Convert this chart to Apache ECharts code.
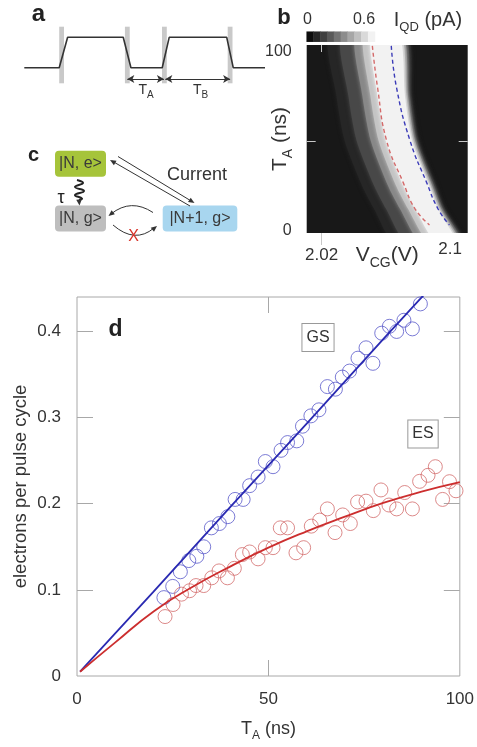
<!DOCTYPE html>
<html><head><meta charset="utf-8">
<script src="https://cdn.jsdelivr.net/npm/echarts@6/dist/echarts.min.js"></script>
<style>html,body{margin:0;padding:0;background:#fff}#c{width:477px;height:747px}</style>
</head><body><div id="c"></div>
<script>
// ---------- panel d : electrons per pulse cycle vs T_A ----------
const gsT = [22.7,25.0,27.0,29.2,31.3,33.1,35.1,37.2,39.4,41.3,43.4,45.1,47.3,49.2,51.2,53.3,55.0,57.4,58.9,61.1,63.2,65.4,67.5,69.3,71.2,73.4,75.5,77.3,79.6,81.6,83.5,85.4,87.6,89.7];
const gsV = [0.091,0.104,0.121,0.134,0.139,0.150,0.172,0.177,0.185,0.205,0.205,0.221,0.231,0.249,0.243,0.262,0.271,0.273,0.290,0.302,0.309,0.336,0.333,0.347,0.354,0.369,0.381,0.363,0.398,0.406,0.400,0.413,0.403,0.432];
const esT = [23.0,25.1,27.3,29.4,31.1,33.1,35.2,37.1,39.3,41.1,43.2,45.1,47.3,49.2,51.2,53.1,55.0,57.2,59.2,61.2,63.4,65.4,67.4,69.4,71.4,73.3,75.5,77.4,79.4,81.5,83.5,85.6,87.6,89.5,91.7,93.6,95.5,97.3,99.0];
const esV = [0.069,0.083,0.095,0.099,0.105,0.105,0.114,0.122,0.114,0.125,0.141,0.144,0.136,0.149,0.149,0.172,0.172,0.143,0.149,0.174,0.181,0.194,0.1665,0.187,0.177,0.202,0.203,0.192,0.216,0.1985,0.194,0.213,0.194,0.226,0.233,0.243,0.205,0.2256,0.215];
const gsFitT = [0.8,20,40,60,80,100];
const gsFitV = [0.005,0.098,0.196,0.293,0.391,0.488];
const esFitT = [0.8,10,20,30,40,50,60,70,80,90,100];
const esFitV = [0.005,0.039,0.075,0.103,0.127,0.149,0.168,0.185,0.201,0.214,0.225];
const dXTicks = [0,50,100];
const dYTicks = [0,0.1,0.2,0.3,0.4];

// ---------- panel b : current map (iso-current contours) ----------
const bandRowsT = [110,75,50,25,12,-8];
const bandLevels = [0.09,0.17,0.32,0.46,0.57];
const bandLeft = [
  [2.0252,2.0292,2.0343,2.0451,2.0526,2.0663],
  [2.0327,2.0367,2.0418,2.0526,2.0601,2.0739],
  [2.0414,2.0454,2.0506,2.0613,2.0688,2.0827],
  [2.0464,2.0504,2.0555,2.0663,2.0738,2.0877],
  [2.0507,2.0548,2.0599,2.0707,2.0782,2.0920]
];
const bandRight = [
  [2.0726,2.0763,2.0807,2.0913,2.0969,2.1089],
  [2.0713,2.0750,2.0794,2.0900,2.0956,2.1076],
  [2.0701,2.0738,2.0782,2.0888,2.0944,2.1064],
  [2.0691,2.0728,2.0772,2.0878,2.0934,2.1054],
  [2.0682,2.0719,2.0763,2.0869,2.0925,2.1045]
];
const dashT = [103,80,50,26.5,12,3];
const redDashV = [2.0516,2.0548,2.0605,2.0709,2.0782,2.0872];
const blueDashV = [2.0634,2.0666,2.0751,2.0855,2.0925,2.0996];
const colorbarValues = [0.03,0.09,0.15,0.21,0.27,0.33,0.39,0.45,0.51,0.57];
const bXTicks = [2.02,2.1];
const bYTicks = [0,100];

// ---------- panel a : pulse train ----------
const pulseT = [0,14.5,18.0,41.1,44.3,57.3,60.2,84.1,86.8,100];
const pulseV = [0,0,1,1,0,0,1,1,0,0];
const pulseBars = [15.5,42.8,58.2,85.5];
const tA = [42.8,58.0];
const tB = [58.6,85.5];

const FONT = "'Liberation Sans', Arial, Helvetica, sans-serif";
const zip = (a,b) => a.map((v,i)=>[v,b[i]]);

function T(x,y,text,size,extra){
  return {type:'text', x, y, z:10, style:Object.assign({text, fontSize:size, fontFamily:FONT, fill:'#333', align:'center', verticalAlign:'middle'}, extra||{})};
}
function sub(x,y,main,s,rest,size,ssize,shift){
  const r = {
    a:{fontSize:size,fontFamily:FONT,fill:'#333',color:'#333',lineHeight:size+shift*2},
    s:{fontSize:ssize,fontFamily:FONT,fill:'#333',color:'#333',lineHeight:ssize,verticalAlign:'bottom'}
  };
  return {type:'text', x, y, z:10, style:{text:'{a|'+main+'}{s|'+s+'}'+(rest?'{a|'+rest+'}':''), rich:r, align:'center', verticalAlign:'middle', fontFamily:FONT}};
}
function head(tx,ty,fx,fy,len,w){
  len=len||6; w=w||2.6;
  const dx=tx-fx, dy=ty-fy, L=Math.hypot(dx,dy), ux=dx/L, uy=dy/L;
  const bx=tx-ux*len, by=ty-uy*len;
  return {type:'polygon', z:10, shape:{points:[[tx,ty],[bx-uy*w,by+ux*w],[bx+uy*w,by-ux*w]]}, style:{fill:'#333'}};
}
function ln(x1,y1,x2,y2,w){return {type:'line', z:10, shape:{x1,y1,x2,y2}, style:{stroke:'#333', lineWidth:w||1}};}

const gray = '#a8a8a8';
const richAxis = (size,ssize) => ({
  a:{fontSize:size,fontFamily:FONT,color:'#333',lineHeight:size+8},
  s:{fontSize:ssize,fontFamily:FONT,color:'#333',lineHeight:ssize,verticalAlign:'bottom'}
});

const graphics = [
  T(38.5,14,'a',24,{fontWeight:'bold',fill:'#222'}),
  T(284,17.5,'b',22,{fontWeight:'bold',fill:'#222'}),
  T(33.5,155,'c',20,{fontWeight:'bold',fill:'#222'}),
  T(115.5,330,'d',23,{fontWeight:'bold',fill:'#222'}),
  sub(146,90,'T','A','',14,10,3),
  sub(200.5,90,'T','B','',14,10,3),
  T(307.5,20,'0',16),
  T(364,20,'0.6',16),
  sub(428,20,'I','QD',' (pA)',20,13,4),
  T(318,337.5,'GS',16,{backgroundColor:'#fff',borderColor:'#999',borderWidth:1,padding:[6,4,5,4]}),
  T(423,434,'ES',16,{backgroundColor:'#fff',borderColor:'#999',borderWidth:1,padding:[6,4,5,4]}),
  {type:'rect', shape:{x:55,y:150.7,width:51,height:26,r:4}, style:{fill:'#a6c43a'}},
  {type:'rect', shape:{x:55,y:205.5,width:51,height:26,r:4}, style:{fill:'#bebebe'}},
  {type:'rect', shape:{x:162.7,y:205.5,width:74.6,height:26,r:4}, style:{fill:'#a8d6ef'}},
  T(80.5,164,'|N, e>',16,{fill:'#3a3a3a'}),
  T(80.5,218.5,'|N, g>',16,{fill:'#3a3a3a'}),
  T(200,218.5,'|N+1, g>',16,{fill:'#3a3a3a'}),
  T(197,175,'Current',18),
  T(61,198,'τ',18,{fill:'#222'}),
  ln(190,206,112,161), head(110,160,190,206),
  ln(118,156.5,192,201.5), head(194.5,203,118,156.5),
  {type:'polyline', z:10, shape:{points:[[77,180],[83,183],[75,187],[84,191],[75,195],[82,198.5],[79,200]], smooth:0.5}, style:{stroke:'#222', lineWidth:2, fill:null}},
  head(79.5,205.5,79,199,6,2.8),
  {type:'bezierCurve', z:10, shape:{x1:153,y1:212.5,cpx1:131,cpy1:198,x2:111,y2:214}, style:{stroke:'#333', lineWidth:1, fill:null}},
  head(108.5,216,131,198),
  {type:'bezierCurve', z:10, shape:{x1:113,y1:225,cpx1:135,cpy1:244,x2:154,y2:228}, style:{stroke:'#333', lineWidth:1, fill:null}},
  head(157,226,135,244),
  T(133.5,236.5,'X',16,{fill:'#d8342b'})
];

const option = {
  animation:false,
  backgroundColor:'#fff',
  textStyle:{fontFamily:FONT},
  grid:[
    {left:77, top:297, width:387, height:380, show:true, borderColor:gray, borderWidth:1, backgroundColor:'transparent'},
    {left:306.7, top:45, width:161, height:188, show:true, borderWidth:0, backgroundColor:'#181818'},
    {left:306.7, top:31.7, width:68.3, height:10},
    {left:24.3, top:26.7, width:240.7, height:56.6}
  ],
  visualMap:[{type:'continuous', show:false, min:0, max:0.6, dimension:2, seriesIndex:[4,7], inRange:{color:['#000000','#ffffff']}}],
  xAxis:[
    {gridIndex:0, type:'value', min:0, max:100, position:'bottom',
     axisLine:{show:false,onZero:false}, splitLine:{show:false},
     axisTick:{inside:true,length:16,lineStyle:{color:gray},customValues:[50]},
     axisLabel:{customValues:dXTicks,fontSize:17,color:'#333',margin:15},
     name:'{a|T}{s|A}{a| (ns)}', nameLocation:'middle', nameGap:40, nameMoveOverlap:false,
     nameTextStyle:{rich:richAxis(18,12)}},
    {gridIndex:0, type:'value', min:0, max:100, position:'top',
     axisLine:{show:false,onZero:false}, splitLine:{show:false},
     axisTick:{inside:true,length:16,lineStyle:{color:gray},customValues:[50]},
     axisLabel:{show:false}},
    {gridIndex:1, type:'value', min:2.0107, max:2.111, position:'bottom',
     axisLine:{show:false,onZero:false}, splitLine:{show:false},
     axisTick:{inside:false,length:12,lineStyle:{color:'#c8c8c8'},customValues:[2.02]},
     axisLabel:{customValues:bXTicks,fontSize:17,color:'#333',margin:14,
       formatter:v=> v>2.05 ? '{hi|2.1}' : '2.02',
       rich:{hi:{fontSize:17,color:'#333',lineHeight:4}}},
     name:'{a|V}{s|CG}{a|(V)}', nameLocation:'middle', nameGap:8, nameMoveOverlap:false,
     nameTextStyle:{rich:richAxis(21,14)}},
    {gridIndex:1, type:'value', min:2.0107, max:2.111, position:'top',
     axisLine:{show:false,onZero:false}, splitLine:{show:false},
     axisTick:{inside:true,length:7,lineStyle:{color:'#c8c8c8'},customValues:[2.02]},
     axisLabel:{show:false}},
    {gridIndex:2, type:'category', data:colorbarValues.map((v,i)=>String(i)), show:false},
    {gridIndex:3, type:'value', min:0, max:100, show:false}
  ],
  yAxis:[
    {gridIndex:0, type:'value', min:0, max:0.44, position:'left',
     axisLine:{show:false,onZero:false}, splitLine:{show:false},
     axisTick:{inside:true,length:16,lineStyle:{color:gray},customValues:[0.1,0.2,0.3,0.4]},
     axisLabel:{customValues:dYTicks,fontSize:17,color:'#333',margin:16},
     name:'electrons per pulse cycle', nameLocation:'middle', nameGap:47, nameMoveOverlap:false,
     nameTextStyle:{fontSize:18.5,color:'#333'}},
    {gridIndex:0, type:'value', min:0, max:0.44, position:'right',
     axisLine:{show:false,onZero:false}, splitLine:{show:false},
     axisTick:{inside:true,length:16,lineStyle:{color:gray},customValues:[0.1,0.2,0.3,0.4]},
     axisLabel:{show:false}},
    {gridIndex:1, type:'value', min:-1.5, max:103.5, position:'left',
     axisLine:{show:false,onZero:false}, splitLine:{show:false},
     axisTick:{inside:true,length:9,lineStyle:{color:'#c8c8c8'},customValues:[50]},
     axisLabel:{customValues:bYTicks,fontSize:16,color:'#333',margin:15},
     name:'{a|T}{s|A}{a| (ns)}', nameLocation:'middle', nameGap:12, nameMoveOverlap:false,
     nameTextStyle:{rich:richAxis(21,14)}},
    {gridIndex:1, type:'value', min:-1.5, max:103.5, position:'right',
     axisLine:{show:false,onZero:false}, splitLine:{show:false},
     axisTick:{inside:true,length:9,lineStyle:{color:'#c8c8c8'},customValues:[50]},
     axisLabel:{show:false}},
    {gridIndex:2, type:'category', data:['0'], show:false},
    {gridIndex:3, type:'value', min:-0.513, max:1.349, show:false}
  ],
  series:[
    {type:'scatter', xAxisIndex:0, yAxisIndex:0, data:zip(gsT,gsV), symbol:'circle', symbolSize:14,
     itemStyle:{color:'transparent', borderColor:'#5a5acb', borderWidth:1}, z:2},
    {type:'scatter', xAxisIndex:0, yAxisIndex:0, data:zip(esT,esV), symbol:'circle', symbolSize:14,
     itemStyle:{color:'transparent', borderColor:'#d36d6d', borderWidth:1}, z:2},
    {type:'line', xAxisIndex:0, yAxisIndex:0, data:zip(gsFitT,gsFitV), symbol:'none', smooth:false,
     lineStyle:{color:'#2a2ab2', width:1.8}, z:3},
    {type:'line', xAxisIndex:0, yAxisIndex:0, data:zip(esFitT,esFitV), symbol:'none', smooth:true,
     lineStyle:{color:'#cc2e2e', width:1.8}, z:3},
    {type:'custom', xAxisIndex:2, yAxisIndex:2, clip:true,
     data:bandLevels.map((v,k)=>[2.06,50,v,k]),
     renderItem:function(params, api){
       const k = api.value(3);
       const pts = [];
       for (let i=0;i<bandRowsT.length;i++) pts.push(api.coord([bandLeft[k][i], bandRowsT[i]]));
       for (let i=bandRowsT.length-1;i>=0;i--) pts.push(api.coord([bandRight[k][i], bandRowsT[i]]));
       const c = api.visual('color');
       return {type:'polygon', shape:{points:pts, smooth:0.25}, style:{fill:c, shadowBlur:4, shadowColor:c}};
     }},
    {type:'line', xAxisIndex:2, yAxisIndex:2, data:zip(redDashV,dashT), symbol:'none', smooth:true,
     lineStyle:{color:'#d46a6a', width:1.4, type:[4,3]}, z:5},
    {type:'line', xAxisIndex:2, yAxisIndex:2, data:zip(blueDashV,dashT), symbol:'none', smooth:true,
     lineStyle:{color:'#3c3cb8', width:1.4, type:[4,3]}, z:5},
    {type:'heatmap', xAxisIndex:4, yAxisIndex:4, data:colorbarValues.map((v,i)=>[i,0,v]),
     itemStyle:{borderWidth:0}},
    {type:'line', xAxisIndex:5, yAxisIndex:5, data:[], symbol:'none',
     markArea:{silent:true, itemStyle:{color:'#c9c9c9'},
       data:pulseBars.map(b=>[{xAxis:b-1.0},{xAxis:b+1.0}])}},
    {type:'line', xAxisIndex:5, yAxisIndex:5, data:zip(pulseT,pulseV), symbol:'none', clip:false,
     lineStyle:{color:'#333', width:1.6}, z:4,
     markLine:{silent:true, symbol:['arrow','arrow'], symbolSize:[6,7], label:{show:false},
       lineStyle:{color:'#333', width:1, type:'solid'},
       data:[[{coord:[tA[0],-0.372]},{coord:[tA[1],-0.372]}],[{coord:[tB[0],-0.372]},{coord:[tB[1],-0.372]}]]}}
  ],
  graphic:graphics
};
const chart = echarts.init(document.getElementById('c'), null, {renderer:'canvas'});
chart.setOption(option);
</script></body></html>
